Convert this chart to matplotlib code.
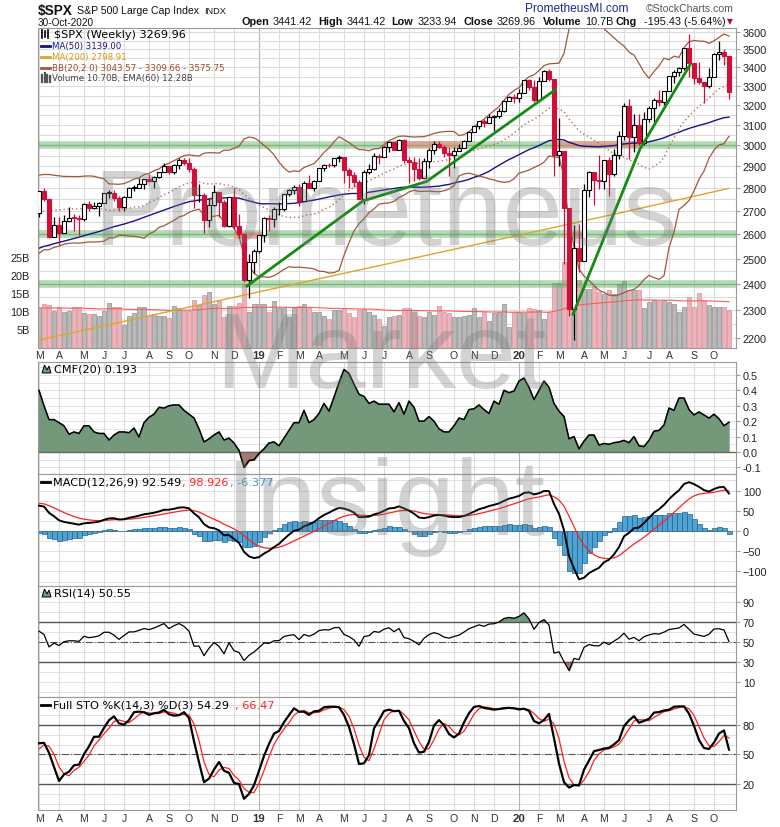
import numpy as np
import pandas as pd
import matplotlib
matplotlib.use('Agg')
import matplotlib.pyplot as plt
from matplotlib.patches import Rectangle, Polygon
from matplotlib.lines import Line2D

W, H = 780, 828
plt.rcParams['font.family'] = ['Liberation Sans', 'DejaVu Sans']

# ---- weekly data (warm-up history Jan-2017 .. 2-Mar-2018, only for indicators) ----
hist_close = [2276.98, 2274.64, 2271.31, 2294.69, 2297.42, 2316.10, 2351.16, 2367.34, 2383.12, 2372.60,
              2378.25, 2343.98, 2362.72, 2355.54, 2328.95, 2348.69, 2384.20, 2399.29, 2390.90, 2381.73,
              2415.82, 2439.07, 2431.77, 2433.15, 2438.30, 2423.41, 2425.18, 2459.27, 2472.54, 2472.10,
              2476.83, 2441.32, 2425.55, 2443.05, 2476.55, 2461.43, 2500.23, 2502.22, 2519.36, 2549.33,
              2553.17, 2575.21, 2581.07, 2587.84, 2582.30, 2578.85, 2602.42, 2642.22, 2651.50, 2675.81,
              2683.34, 2673.61, 2743.15, 2786.24, 2810.30, 2872.87, 2762.13, 2619.55, 2732.22, 2747.30,
              2691.25]
hist_high = [2588, 2597, 2590, 2604, 2658, 2665, 2680, 2695, 2692, 2743, 2787, 2810, 2873, 2873,
             2763, 2754, 2748, 2789]
hist_low = [2566, 2566, 2557, 2576, 2601, 2624, 2652, 2676, 2673, 2682, 2737, 2768, 2808, 2759,
            2533, 2600, 2677, 2647]

# ---- displayed weeks: 9-Mar-2018 .. 30-Oct-2020 ----
closes = [2786.57, 2752.01, 2588.26, 2640.87, 2604.47, 2656.30, 2670.14, 2669.91, 2663.42, 2727.72,
          2712.97, 2721.33, 2734.62, 2779.03, 2779.66, 2754.88, 2718.37, 2759.82, 2801.31, 2801.83,
          2818.82, 2840.35, 2833.28, 2850.13, 2874.69, 2901.52, 2871.68, 2904.98, 2929.67, 2913.98,
          2885.57, 2767.13, 2767.78, 2658.69, 2723.06, 2781.01, 2736.27, 2632.56, 2760.17, 2633.08,
          2599.95, 2416.62, 2485.74, 2531.94, 2596.26, 2670.71, 2664.76, 2706.53, 2707.88, 2775.60,
          2792.67, 2803.69, 2743.07, 2822.48, 2800.71, 2834.40, 2892.74, 2907.41, 2905.03, 2939.88,
          2945.64, 2881.40, 2859.53, 2826.06, 2752.06, 2873.34, 2886.98, 2950.46, 2941.76, 2990.41,
          3013.77, 2976.61, 3025.86, 2932.05, 2918.65, 2888.68, 2847.11, 2926.46, 2978.71, 3007.39,
          2992.07, 2961.79, 2952.01, 2970.27, 2986.20, 3022.55, 3066.91, 3093.08, 3120.46, 3110.29,
          3140.98, 3145.91, 3168.80, 3221.22, 3240.02, 3234.85, 3265.35, 3329.62, 3295.47, 3225.52,
          3327.71, 3380.16, 3337.75, 2954.22, 2972.37, 2711.02, 2304.92, 2541.47, 2488.65, 2789.82,
          2874.56, 2836.74, 2830.71, 2929.80, 2863.70, 2955.45, 3044.31, 3193.93, 3041.31, 3097.74,
          3009.05, 3130.01, 3185.04, 3224.73, 3215.63, 3271.12, 3351.28, 3372.85, 3397.16, 3508.01,
          3426.96, 3340.97, 3319.47, 3298.46, 3348.44, 3477.13, 3483.81, 3465.39, 3269.96]
highs = [2787, 2802, 2741, 2675, 2672, 2680, 2717, 2684, 2682, 2733,
         2742, 2739, 2737, 2780, 2791, 2790, 2764, 2763, 2804, 2816,
         2848, 2840, 2863, 2855, 2876, 2916, 2903, 2912, 2941, 2940,
         2937, 2895, 2817, 2779, 2756, 2815, 2781, 2746, 2761, 2800,
         2685, 2607, 2520, 2538, 2598, 2675, 2681, 2717, 2739, 2776,
         2794, 2813, 2817, 2831, 2860, 2836, 2893, 2911, 2916, 2940,
         2954, 2932, 2892, 2876, 2836, 2884, 2911, 2964, 2959, 2996,
         3018, 3015, 3028, 3029, 2943, 2943, 2939, 2940, 2986, 3021,
         3022, 3002, 2991, 2993, 3008, 3027, 3067, 3098, 3120, 3128,
         3154, 3149, 3183, 3226, 3248, 3258, 3283, 3330, 3338, 3333,
         3348, 3385, 3394, 3338, 3137, 2883, 2711, 2637, 2641, 2819,
         2879, 2845, 2955, 2932, 2945, 2980, 3069, 3212, 3233, 3156,
         3155, 3166, 3198, 3238, 3279, 3272, 3353, 3388, 3400, 3509,
         3588, 3426, 3429, 3307, 3397, 3482, 3550, 3501, 3441.42]
lows = [2675, 2741, 2586, 2593, 2554, 2605, 2660, 2613, 2595, 2655,
        2701, 2707, 2677, 2734, 2755, 2743, 2698, 2698, 2770, 2789,
        2802, 2795, 2830, 2802, 2848, 2876, 2864, 2864, 2886, 2904,
        2874, 2711, 2740, 2604, 2631, 2722, 2671, 2631, 2631, 2622,
        2583, 2409, 2347, 2444, 2524, 2569, 2612, 2631, 2681, 2697,
        2763, 2775, 2722, 2748, 2800, 2785, 2848, 2880, 2895, 2898,
        2920, 2825, 2801, 2805, 2751, 2729, 2863, 2881, 2912, 2946,
        2966, 2975, 2975, 2914, 2822, 2834, 2836, 2853, 2891, 2959,
        2985, 2946, 2856, 2893, 2973, 2991, 3023, 3066, 3078, 3091,
        3115, 3070, 3134, 3166, 3223, 3212, 3215, 3264, 3281, 3215,
        3234, 3331, 3327, 2856, 2902, 2479, 2281, 2192, 2447, 2508,
        2761, 2727, 2797, 2798, 2767, 2853, 2933, 3025, 2936, 2966,
        3000, 3000, 3113, 3115, 3195, 3200, 3284, 3317, 3356, 3387,
        3350, 3310, 3313, 3209, 3288, 3354, 3441, 3415, 3233.94]
volumes = [11.1, 12.2, 12.0, 10.4, 11.3, 10.0, 10.4, 11.3, 11.3, 9.7,
           9.4, 9.4, 9.0, 10.4, 12.4, 11.5, 11.5, 6.4, 9.0, 9.7,
           11.5, 11.3, 8.8, 9.4, 8.8, 9.0, 8.3, 11.8, 11.0, 10.4,
           10.4, 13.3, 12.0, 14.7, 15.5, 12.2, 13.1, 8.5, 11.8, 11.8,
           12.4, 17.8, 10.0, 12.2, 12.2, 12.2, 10.0, 13.1, 11.2, 11.2,
           8.6, 11.2, 11.8, 12.2, 11.2, 10.0, 10.0, 9.0, 8.0, 10.5,
           10.5, 11.2, 9.7, 8.6, 10.5, 10.8, 10.0, 9.3, 8.0, 6.2,
           8.6, 9.0, 9.3, 11.2, 11.2, 10.0, 9.0, 8.6, 10.0, 9.3,
           11.8, 10.0, 9.7, 8.6, 8.6, 9.0, 9.3, 11.2, 8.6, 10.0,
           7.4, 9.7, 10.0, 12.2, 5.9, 10.0, 10.0, 9.7, 11.2, 10.8,
           10.5, 8.0, 10.0, 18.0, 18.0, 24.0, 24.0, 22.6, 19.0, 16.4,
           16.4, 17.3, 15.5, 15.0, 16.1, 15.0, 17.8, 18.7, 16.1, 16.1,
           16.1, 11.1, 12.7, 13.3, 13.1, 13.3, 12.7, 12.2, 10.1, 11.3,
           14.3, 11.3, 15.2, 13.1, 12.0, 11.5, 11.5, 11.5, 10.7]
cmf = [0.40, 0.30, 0.21, 0.21, 0.19, 0.17, 0.115, 0.13, 0.12, 0.17,
       0.17, 0.13, 0.12, 0.12, 0.077, 0.11, 0.13, 0.13, 0.125, 0.155,
       0.097, 0.19, 0.225, 0.245, 0.29, 0.285, 0.30, 0.305, 0.305, 0.27,
       0.245, 0.22, 0.15, 0.065, 0.085, 0.11, 0.13, 0.077, 0.09, 0.058,
       0.01, -0.10, -0.055, -0.05, -0.01, 0.02, 0.058, 0.065, 0.04, 0.09,
       0.14, 0.19, 0.19, 0.27, 0.19, 0.21, 0.25, 0.315, 0.265, 0.355,
       0.45, 0.535, 0.51, 0.44, 0.375, 0.36, 0.315, 0.33, 0.31, 0.31,
       0.31, 0.26, 0.32, 0.245, 0.33, 0.29, 0.20, 0.20, 0.23, 0.20,
       0.15, 0.13, 0.13, 0.17, 0.22, 0.21, 0.275, 0.28, 0.305, 0.275,
       0.25, 0.33, 0.31, 0.40, 0.385, 0.395, 0.46, 0.48, 0.42, 0.34,
       0.40, 0.46, 0.42, 0.315, 0.265, 0.23, 0.085, 0.10, 0.02, 0.07,
       0.11, 0.11, 0.045, 0.055, 0.05, 0.06, 0.065, 0.075, 0.06, 0.10,
       0.04, 0.035, 0.075, 0.135, 0.14, 0.175, 0.285, 0.27, 0.35, 0.35,
       0.275, 0.24, 0.26, 0.24, 0.22, 0.245, 0.215, 0.17, 0.193]
ma200_idx = [0, 23, 46, 69, 92, 115, 138]
ma200_val = [2193, 2284, 2378, 2476, 2578, 2685, 2798.91]

# annotations drawn on the chart
trend1_idx = [41.6, 64.8, 77.5, 103.2]
trend1_val = [2392, 2743, 2830, 3279]
trend2_idx = [106.8, 120.2, 130.2]
trend2_val = [2286, 2982, 3414]
green_levels = [3000, 2600, 2400]
pink_zones = [(3004, 68.8, 84.6), (3004, 103.0, 120.5), (2597, 38.8, 44.6), (2597, 105.6, 108.6)]

# ---- derived series ----
n = len(closes)
x = np.arange(n)
dates = pd.date_range('2018-03-09', periods=n, freq='W-FRI')
nh = len(hist_close)
allc = pd.Series(hist_close + closes)
c = np.array(closes)
opens = allc.shift(1).values[nh:]
hi = np.maximum.reduce([np.array(highs, float), opens, c])
lo = np.minimum.reduce([np.array(lows, float), opens, c])
allh = pd.Series([np.nan] * (nh - len(hist_high)) + hist_high + list(hi))
alll = pd.Series([np.nan] * (nh - len(hist_low)) + hist_low + list(lo))

ma50 = allc.rolling(50).mean().values[nh:]
mid = allc.rolling(20).mean()
sd = allc.rolling(20).std(ddof=0)
bb_up = (mid + 2 * sd).values[nh:]
bb_dn = (mid - 2 * sd).values[nh:]
bb_mid = mid.values[nh:]

macd_s = allc.ewm(span=12, adjust=False).mean() - allc.ewm(span=26, adjust=False).mean()
sig_s = macd_s.ewm(span=9, adjust=False).mean()
macd = macd_s.values[nh:]
sig = sig_s.values[nh:]
mhist = macd - sig

d = allc.diff()
ag = d.clip(lower=0).ewm(alpha=1 / 14, adjust=False).mean()
al = (-d.clip(upper=0)).ewm(alpha=1 / 14, adjust=False).mean()
rsi = (100 - 100 / (1 + ag / al)).values[nh:]

fastk = (allc - alll.rolling(14).min()) / (allh.rolling(14).max() - alll.rolling(14).min()) * 100
fullk_s = fastk.rolling(3).mean()
fullk = fullk_s.values[nh:]
fulld = fullk_s.rolling(3).mean().values[nh:]

vol = np.array(volumes)
vol_ema = pd.Series(vol).ewm(span=60, adjust=False).mean().values
cmf = np.array(cmf)

# ---- figure ----
fig = plt.figure(figsize=(W / 100, H / 100), dpi=100)
fig.patch.set_facecolor('white')


def axpos(top, bot):
    return [38 / W, 1 - bot / H, (736 - 38) / W, (bot - top) / H]


def ftext(px, py, s, **kw):
    kw.setdefault('va', 'center')
    return fig.text(px / W, 1 - py / H, s, **kw)


def fline(x0, x1, y0, y1=None, **kw):
    y1 = y0 if y1 is None else y1
    fig.add_artist(Line2D([x0 / W, x1 / W], [1 - y0 / H, 1 - y1 / H], transform=fig.transFigure, **kw))


ax = fig.add_axes(axpos(29, 349))
ax_cmf = fig.add_axes(axpos(363, 475))
ax_macd = fig.add_axes(axpos(475, 587))
ax_rsi = fig.add_axes(axpos(587, 698))
ax_sto = fig.add_axes(axpos(698, 811))
panels = [ax, ax_cmf, ax_macd, ax_rsi, ax_sto]

mondays = dates - pd.Timedelta(days=4)
month_idx = [i for i in range(n) if mondays[i].day <= 7]

for a in panels:
    a.set_xlim(-0.2, 139.4)
    a.set_xticks([])
    a.yaxis.tick_right()
    a.tick_params(axis='y', which='both', labelsize=7.8, length=3, width=0.6,
                  color='#888888', labelcolor='#222222', pad=2)
    a.tick_params(axis='y', which='minor', length=0)
    for sp in a.spines.values():
        sp.set_color('#999999')
        sp.set_linewidth(0.8)
    for i in month_idx:
        jan = dates[i].month == 1 and i > 0
        a.axvline(i, color='#b4b4b4' if jan else '#dcdcdc', lw=0.8, zorder=0.2)

# ---- price panel ----
ax.set_yscale('log')
ax.set_ylim(2165, 3623)
ticks = list(range(2200, 3700, 100))
ax.set_yticks(ticks)
ax.set_yticklabels([str(t) for t in ticks])
ax.yaxis.set_minor_locator(matplotlib.ticker.NullLocator())
for v in range(2200, 3650, 50):
    ax.axhline(v, color='#dcdcdc', lw=0.8, zorder=0.2)

xt = ax.get_xaxis_transform()
for i in range(n):
    upw = c[i] >= opens[i]
    fc = '#b9b9b9' if upw else '#ebb4ba'
    ec = '#8f8f8f' if upw else '#dc8f98'
    ax.add_patch(Rectangle((i - 0.42, 0), 0.84, vol[i] / 89, transform=xt,
                           facecolor=fc, edgecolor=ec, lw=0.5, zorder=1))
ax.plot(x, vol_ema / 89, transform=xt, color='#ff5a5a', lw=0.8, zorder=1.5)

for v in green_levels:
    ax.axhline(v, color='#5fae5f', alpha=0.45, lw=5.5, zorder=1.6)
    ax.axhline(v, color='#3c8f3c', alpha=0.35, lw=1, zorder=1.6)
for lvl, i0, i1 in pink_zones:
    ax.hlines(lvl, i0, i1, color='#ff6b6b', alpha=0.45, lw=5, zorder=1.7)

ax.plot(ma200_idx, ma200_val, color='#e0a526', lw=1.0, zorder=2)
ax.plot(x, ma50, color='#14148c', lw=1.0, zorder=2)
ax.plot(x, bb_up, color='#a0583a', lw=0.9, zorder=2)
ax.plot(x, bb_dn, color='#a0583a', lw=0.9, zorder=2)
ax.plot(x, bb_mid, color='#b8704e', lw=1.0, ls=(0, (1, 2)), zorder=2)

red = '#d0103a'
for i in range(n):
    col = 'black' if c[i] >= opens[i] else red
    ax.vlines(i, lo[i], hi[i], color=col, lw=0.9, zorder=3)
    b0, b1 = min(opens[i], c[i]), max(opens[i], c[i])
    if b1 - b0 < 2:
        b1 = b0 + 2
    ax.add_patch(Rectangle((i - 0.34, b0), 0.68, b1 - b0,
                           facecolor='white' if c[i] >= opens[i] else red,
                           edgecolor=col, lw=0.8, zorder=4))

ax.plot(trend1_idx, trend1_val, color='#148c14', lw=2.0, zorder=5)
ax.plot(trend2_idx, trend2_val, color='#148c14', lw=2.0, zorder=5)

for v in [5, 10, 15, 20, 25]:
    ax.text(-0.012, v / 89, f'{v}B', transform=ax.transAxes, ha='right', va='center',
            fontsize=7.8, color='#222222')

# ---- CMF ----
ax_cmf.set_ylim(-0.143, 0.584)
ax_cmf.set_yticks([0.5, 0.4, 0.3, 0.2, 0.1, 0.0, -0.1])
ax_cmf.set_yticklabels(['0.5', '0.4', '0.3', '0.2', '0.1', '0.0', '-0.1'])
for v in np.arange(-0.1, 0.56, 0.05):
    ax_cmf.axhline(v, color='#e2e2e2', lw=0.7, zorder=0.1)
ax_cmf.fill_between(x, cmf, 0, where=cmf >= 0, interpolate=True, color='#74987a', zorder=1)
ax_cmf.fill_between(x, cmf, 0, where=cmf < 0, interpolate=True, color='#a57a6f', zorder=1)
ax_cmf.axhline(0, color='#666666', lw=1, zorder=2)
ax_cmf.plot(x, cmf, color='black', lw=1.1, zorder=3)

# ---- MACD ----
ax_macd.set_ylim(-136, 141)
ax_macd.set_yticks([100, 50, 0, -50, -100])
for v in range(-125, 140, 25):
    ax_macd.axhline(v, color='#e2e2e2', lw=0.7, zorder=0.1)
ax_macd.bar(x, mhist, width=1.0, color='#4ea3d3', edgecolor='#22628c', lw=0.5, zorder=1)
ax_macd.axhline(0, color='#d0d0d0', lw=0.8, zorder=0.5)
ax_macd.plot(x, sig, color='#ff2020', lw=0.9, zorder=2)
ax_macd.plot(x, macd, color='black', lw=1.4, zorder=3)

# ---- RSI ----
ax_rsi.set_ylim(-5, 106)
ax_rsi.set_yticks([90, 70, 50, 30, 10])
for v in range(0, 101, 10):
    ax_rsi.axhline(v, color='#e2e2e2', lw=0.7, zorder=0.1)
ax_rsi.fill_between(x, rsi, 70, where=rsi >= 70, interpolate=True, color='#74987a', zorder=1)
ax_rsi.fill_between(x, rsi, 30, where=rsi <= 30, interpolate=True, color='#a57a6f', zorder=1)
ax_rsi.axhline(70, color='#555555', lw=1, zorder=1.5)
ax_rsi.axhline(30, color='#555555', lw=1, zorder=1.5)
ax_rsi.axhline(50, color='#555555', lw=0.8, ls='-.', zorder=1.5)
ax_rsi.plot(x, rsi, color='black', lw=0.9, zorder=3)

# ---- Full STO ----
ax_sto.set_ylim(-6.5, 108.5)
ax_sto.set_yticks([80, 50, 20])
for v in range(0, 101, 10):
    ax_sto.axhline(v, color='#e2e2e2', lw=0.7, zorder=0.1)
ax_sto.axhline(80, color='#555555', lw=1, zorder=1.5)
ax_sto.axhline(20, color='#555555', lw=1, zorder=1.5)
ax_sto.axhline(50, color='#555555', lw=0.8, ls='-.', zorder=1.5)
ax_sto.plot(x, fulld, color='#ff2020', lw=0.9, zorder=2)
ax_sto.plot(x, fullk, color='black', lw=1.6, zorder=3)

# ---- month labels ----
letters = 'JFMAMJJASOND'
for i in month_idx:
    px = 39 + 5 * i
    m = dates[i].month
    if m == 1 and i > 0:
        s, fw = str(dates[i].year)[2:], 'bold'
    else:
        s, fw = letters[m - 1], 'normal'
    for py in (356, 819):
        ftext(px, py, s, ha='center', fontsize=7.6 if fw == 'normal' else 8.2,
              fontweight=fw, color='#333333')

# ---- header ----
ftext(38, 11, '$SPX', fontsize=9.8, fontweight='bold', color='#111111')
ftext(77, 11, 'S&P 500 Large Cap Index', fontsize=7.6, color='#111111')
ftext(204, 11, 'INDX', fontsize=6.6, color='#111111')
ftext(38, 23, '30-Oct-2020', fontsize=7.2, color='#111111')
ftext(525, 9, 'PrometheusMI.com', fontsize=8.6, color='#1c2a8c')
ftext(646, 9, '\u00a9StockCharts.com', fontsize=7.6, color='#555555')
head = [(242, 'Open', True), (273, '3441.42', False), (318, 'High', True), (347, '3441.42', False),
        (391, 'Low', True), (418, '3233.94', False), (463, 'Close', True), (497, '3269.96', False),
        (543, 'Volume', True), (585, '10.7B', False), (615, 'Chg', True), (644, '-195.43 (-5.64%)', False)]
for px, s, b in head:
    ftext(px, 22, s, fontsize=7.8, fontweight='bold' if b else 'normal', color='#111111')
ftext(727, 22, '\u25bc', fontsize=5.5, color='#b0102a', family='DejaVu Sans')

# ---- legends ----
big = dict(fontsize=8.1, family='DejaVu Sans')
small = dict(fontsize=6.2, family='DejaVu Sans')
# candle icon
for xx, y0, y1 in [(42, 31, 39), (45, 32, 38), (48, 31, 39)]:
    fline(xx, xx, y0, y1, color='black', lw=1.2)
ftext(54, 35, '$SPX (Weekly) 3269.96', color='black', **big)
fline(41, 50, 46.5, color='#14148c', lw=2)
ftext(52, 46.5, 'MA(50) 3139.00', color='#14148c', **small)
fline(41, 50, 57.5, color='#e0a526', lw=2)
ftext(52, 57.5, 'MA(200) 2798.91', color='#d89a10', **small)
fline(41, 50, 68.5, color='#a0583a', lw=2)
ftext(52, 68.5, 'BB(20,2.0) 3043.57 - 3309.66 - 3575.75', color='#a0482a', **small)
for xx, y0 in [(42, 76), (44.5, 74), (47, 75.5), (49.5, 77)]:
    fline(xx, xx, y0, 83, color='#555555', lw=1.6)
ftext(52, 79, 'Volume 10.70B, EMA(60) 12.28B', color='#444444', **small)


def mountain(px, py):
    pts = [(px, py + 4), (px + 2.5, py - 4), (px + 5, py + 1), (px + 7, py - 3), (px + 9, py + 4)]
    fig.add_artist(Polygon([(a / W, 1 - b / H) for a, b in pts], closed=True,
                           transform=fig.transFigure, facecolor='#74987a', edgecolor='black', lw=0.7))


mountain(42, 370)
ftext(54, 370, 'CMF(20) 0.193', color='black', **big)
fline(41, 50, 483, color='black', lw=2)
ftext(53, 483, 'MACD(12,26,9) 92.549', color='black', **big)
ftext(182, 483, ', 98.926', color='#ff2020', **big)
ftext(230, 483, ', -6.377', color='#3c9ad0', **big)
mountain(42, 594)
ftext(54, 594, 'RSI(14) 50.55', color='black', **big)
fline(41, 50, 706, color='black', lw=2)
ftext(53, 706, 'Full STO %K(14,3) %D(3) 54.29', color='black', **big)
ftext(235, 706, ', 66.47', color='#ff2020', **big)

# ---- watermark ----
wm = dict(fontsize=78, color='#7a7a7a', alpha=0.33, ha='center', va='baseline',
          family='Liberation Sans', zorder=20)
ftext(385, 245, 'Prometheus', **wm)
ftext(381, 388, 'Market', **wm)
ftext(385, 535, 'Insight', **wm)

fig.savefig('out.png', dpi=100, facecolor='white')
